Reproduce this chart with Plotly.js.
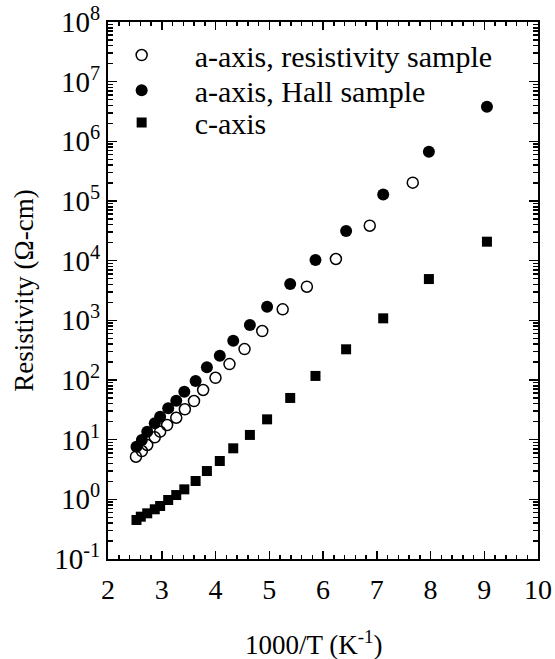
<!DOCTYPE html>
<html>
<head>
<meta charset="utf-8">
<script src="https://cdn.plot.ly/plotly-3.0.1.min.js"></script>
<style>html,body{margin:0;padding:0;background:#fff;}#chart{width:555px;height:659px;}</style>
</head>
<body>
<div id="chart"></div>
<script>
// a-axis, resistivity sample (open circles)
const resX = [2.52, 2.63, 2.73, 2.87, 2.97, 3.10, 3.27, 3.43, 3.60, 3.77, 4.00, 4.26, 4.54, 4.87, 5.25, 5.70, 6.24, 6.87, 7.67];
const resY = [5.18, 6.45, 8.14, 10.95, 13.6, 17.6, 23.3, 32.3, 44.4, 68, 109, 185, 330, 662, 1530, 3660, 10660, 38500, 203000];
// a-axis, Hall sample (filled circles)
const hallX = [2.53, 2.63, 2.73, 2.87, 2.97, 3.12, 3.27, 3.42, 3.63, 3.84, 4.08, 4.33, 4.64, 4.96, 5.39, 5.86, 6.43, 7.12, 7.97, 9.05];
const hallY = [7.6, 9.9, 13.6, 18.8, 24.3, 33.5, 45, 63.7, 96, 163, 255, 456, 835, 1694, 4064, 10260, 31400, 129000, 670000, 3800000];
// c-axis (filled squares)
const cX = [2.53, 2.61, 2.73, 2.87, 2.97, 3.12, 3.27, 3.42, 3.63, 3.84, 4.08, 4.33, 4.64, 4.96, 5.39, 5.86, 6.43, 7.12, 7.97, 9.05];
const cY = [0.451, 0.512, 0.583, 0.681, 0.773, 0.975, 1.18, 1.47, 2.03, 2.98, 4.39, 7.16, 12.0, 21.9, 50, 117, 327, 1080, 4920, 20800];

const seriesNames = ["a-axis, resistivity sample", "a-axis, Hall sample", "c-axis"];
const xTickVals = [2, 3, 4, 5, 6, 7, 8, 9, 10];
const yExponents = [-1, 0, 1, 2, 3, 4, 5, 6, 7, 8];

const yTickVals = yExponents.map(e => Math.pow(10, e));
const yTickText = yExponents.map(e => "10<sup>" + e + "</sup>");
const yMinor = [];
yExponents.slice(0, -1).forEach(e => { for (let m = 2; m <= 9; m++) yMinor.push(m * Math.pow(10, e)); });

const FONT = '"Liberation Serif", "Times New Roman", Times, serif';

const traces = [
  {x: resX, y: resY, name: seriesNames[0], mode: "markers", type: "scatter", legend: "legend",
   marker: {symbol: "circle-open", size: 11, color: "#000", line: {width: 1.5, color: "#000"}}},
  {x: hallX, y: hallY, name: seriesNames[1], mode: "markers", type: "scatter", legend: "legend2",
   marker: {symbol: "circle", size: 12, color: "#000"}},
  {x: cX, y: cY, name: seriesNames[2], mode: "markers", type: "scatter", legend: "legend3",
   marker: {symbol: "square", size: 10, color: "#000"}}
];

function leg(y) {
  return {x: -0.045, xanchor: "left", y: y, yanchor: "middle", bgcolor: "rgba(0,0,0,0)",
          font: {family: FONT, size: 30, color: "#000"}, itemwidth: 96};
}

const layout = {
  width: 555, height: 659,
  margin: {l: 108, r: 17, t: 22, b: 100},
  paper_bgcolor: "#fff", plot_bgcolor: "#fff",
  font: {family: FONT, size: 28, color: "#000"},
  showlegend: true,
  legend: leg(0.9385),
  legend2: leg(0.873),
  legend3: leg(0.813),
  xaxis: {range: [2, 10], tickmode: "array", tickvals: xTickVals, ticktext: xTickVals.map(String),
          ticks: "inside", ticklen: 8, tickwidth: 1.5, tickcolor: "#000",
          showline: true, linewidth: 2, linecolor: "#000", mirror: "allticks",
          showgrid: false, zeroline: false, ticklabelstandoff: 4,
          tickfont: {family: FONT, size: 28, color: "#000"},
          minor: {tickmode: "linear", tick0: 2, dtick: 0.2, ticks: "inside", ticklen: 4, tickwidth: 1.5, tickcolor: "#000", showgrid: false}},
  yaxis: {type: "log", range: [-1, 8], tickmode: "array", tickvals: yTickVals, ticktext: yTickText,
          ticks: "inside", ticklen: 9, tickwidth: 1.5, tickcolor: "#000",
          showline: true, linewidth: 2, linecolor: "#000", mirror: "allticks",
          showgrid: false, zeroline: false,
          tickfont: {family: FONT, size: 29, color: "#000"},
          title: {text: "Resistivity (Ω-cm)", font: {family: FONT, size: 27, color: "#000"}, standoff: 13},
          minor: {tickmode: "array", tickvals: yMinor, ticks: "inside", ticklen: 5, tickwidth: 1.5, tickcolor: "#000", showgrid: false}},
  annotations: [
    {text: "1000/T (K<sup>-1</sup>)", xref: "paper", yref: "paper", x: 0.479, y: -0.157, xanchor: "center", yanchor: "middle",
     showarrow: false, font: {family: FONT, size: 27, color: "#000"}}
  ]
};

Plotly.newPlot("chart", traces, layout, {displayModeBar: false, staticPlot: true});
</script>
</body>
</html>
